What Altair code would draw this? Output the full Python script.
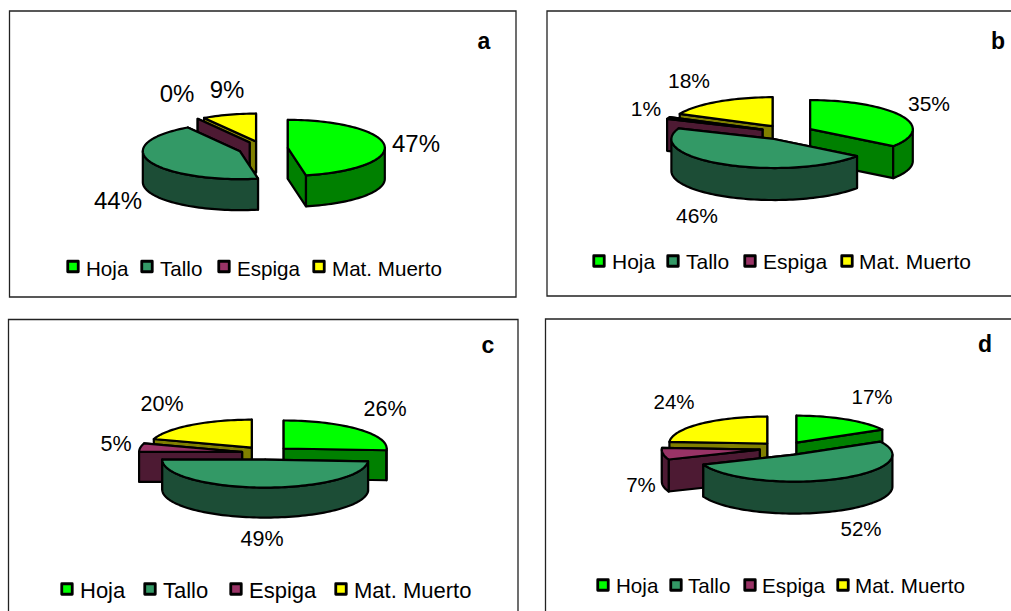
import math
import altair as alt

# Composition of each sample, in percent, clockwise from twelve o'clock
CATEGORIES = ["Hoja", "Tallo", "Espiga", "Mat. Muerto"]
VALUES_A = [47, 44, 0, 9]
VALUES_B = [35, 46, 1, 18]
VALUES_C = [26, 49, 5, 20]
VALUES_D = [17, 52, 7, 24]
TOP_COLORS = ["#00FF00", "#339966", "#993366", "#FFFF00"]
WALL_COLORS = ["#008000", "#1C4D36", "#4D1A33", "#808000"]

# Pie geometry and text placement for each panel
PANELS = [
    dict(name="a", values=VALUES_A, c=(263, 148.5), rx=97, ry=28, depth=31, explode=0.257,
         frame=(9.5, 11, 516, 297), letter=(484, 49),
         labels=[(416, 152), (118, 209), (177, 102), (227, 98)], label_size=24,
         legend_y=266.5, legend_base=275.5, legend_size=20.6,
         swatch_x=[73, 147, 224, 319], text_x=[86, 160, 237, 332]),
    dict(name="b", values=VALUES_B, c=(786.7, 132.5), rx=102.6, ry=29, depth=32, explode=0.257,
         frame=(547, 11, 1030, 296), letter=(998, 49),
         labels=[(929, 111), (697, 223), (646, 116), (689, 88)], label_size=21,
         legend_y=261, legend_base=269, legend_size=21,
         swatch_x=[599, 673, 750, 847], text_x=[612, 686, 763, 859]),
    dict(name="c", values=VALUES_C, c=(266, 453), rx=103, ry=28, depth=30, explode=0.235,
         frame=(8.5, 319.5, 518, 630), letter=(488, 353),
         labels=[(385, 416), (262, 546), (116, 451), (162, 411)], label_size=21.5,
         legend_y=589, legend_base=598, legend_size=22,
         swatch_x=[67, 150, 236, 341], text_x=[80, 163, 249, 354]),
    dict(name="d", values=VALUES_D, c=(784, 448.5), rx=98, ry=27, depth=32, explode=0.25,
         frame=(545.5, 319, 1030, 630), letter=(985, 352),
         labels=[(872, 404), (861, 536), (641, 492), (674, 409)], label_size=20.5,
         legend_y=585, legend_base=593, legend_size=20.6,
         swatch_x=[603, 676, 750, 843], text_x=[616, 688, 762, 855]),
]

# Back-to-front paint order of the slices
PAINT_ORDER = [3, 2, 0, 1]
FONT = "Liberation Sans"


def rim(center, rx, ry, start, end, drop=0.0):
    """Points along a slice's elliptical rim, angles in degrees clockwise from the top."""
    steps = max(2, int(abs(end - start) / 2) + 1)
    points = []
    for i in range(steps + 1):
        t = math.radians(start + (end - start) * i / steps)
        points.append([center[0] + rx * math.sin(t), center[1] - ry * math.cos(t) + drop])
    return points


def polygon(points, fill):
    return {
        "type": "Feature",
        "properties": {"fill": fill},
        "geometry": {"type": "Polygon", "coordinates": [points + [points[0]]]},
    }


def slice_features(panel):
    values = panel["values"]
    total = sum(values)
    rx, ry, depth = panel["rx"], panel["ry"], panel["depth"]
    spans, running = [], 0.0
    for v in values:
        spans.append((running, running + 360.0 * v / total))
        running += 360.0 * v / total

    features = []
    for i in PAINT_ORDER:
        start, end = spans[i]
        mid = math.radians((start + end) / 2)
        center = (
            panel["c"][0] + panel["explode"] * rx * math.sin(mid),
            panel["c"][1] - panel["explode"] * ry * math.cos(mid),
        )
        # Cut faces of the wedge, the one nearer the viewer painted last
        for angle in sorted((start, end), key=lambda a: math.cos(math.radians(a)), reverse=True):
            edge = rim(center, rx, ry, angle, angle)[0]
            features.append(polygon(
                [list(center), edge, [edge[0], edge[1] + depth], [center[0], center[1] + depth]],
                WALL_COLORS[i],
            ))
        # Outer wall, on the part of the rim that faces the viewer
        low, high = max(start, 90.0), min(end, 270.0)
        if high > low:
            upper = rim(center, rx, ry, low, high)
            lower = rim(center, rx, ry, low, high, depth)
            features.append(polygon(upper + lower[::-1], WALL_COLORS[i]))
        # Top surface
        if end > start:
            features.append(polygon([list(center)] + rim(center, rx, ry, start, end), TOP_COLORS[i]))
    return features


features, frames, letters, labels, swatches, legend_text = [], [], [], [], [], []
for p in PANELS:
    features += slice_features(p)
    x0, y0, x1, y1 = p["frame"]
    frames.append(dict(x=x0, y=y0, x2=x1, y2=y1))
    letters.append(dict(x=p["letter"][0], y=p["letter"][1], text=p["name"]))
    for value, (lx, ly) in zip(p["values"], p["labels"]):
        labels.append(dict(x=lx, y=ly, text=f"{value}%", size=p["label_size"]))
    for i, name in enumerate(CATEGORIES):
        swatches.append(dict(x=p["swatch_x"][i], y=p["legend_y"], fill=TOP_COLORS[i]))
        legend_text.append(dict(x=p["text_x"][i], y=p["legend_base"], text=name, size=p["legend_size"]))

px = dict(scale=None, axis=None)
X = alt.X("x:Q", **px)
Y = alt.Y("y:Q", **px)

frame_layer = alt.Chart(alt.Data(values=frames)).mark_rect(
    fill="white", stroke="#222222", strokeWidth=1.3
).encode(x=X, y=Y, x2="x2:Q", y2="y2:Q")

pie_layer = alt.Chart(alt.Data(values=features)).mark_geoshape(
    stroke="#000000", strokeWidth=2.2, strokeJoin="round"
).encode(fill=alt.Fill("properties.fill:N", scale=None)).project(
    type="identity", scale=1, translate=[0, 0]
)

label_layer = alt.Chart(alt.Data(values=labels)).mark_text(
    font=FONT, color="#000000", align="center", baseline="alphabetic"
).encode(x=X, y=Y, text="text:N", size=alt.Size("size:Q", scale=None))

letter_layer = alt.Chart(alt.Data(values=letters)).mark_text(
    font=FONT, fontWeight="bold", fontSize=23, color="#000000", align="center", baseline="alphabetic"
).encode(x=X, y=Y, text="text:N")

swatch_layer = alt.Chart(alt.Data(values=swatches)).mark_square(
    size=110, stroke="#000000", strokeWidth=2.8, opacity=1, filled=True, strokeJoin="round"
).encode(x=X, y=Y, fill=alt.Fill("fill:N", scale=None))

legend_layer = alt.Chart(alt.Data(values=legend_text)).mark_text(
    font=FONT, color="#000000", align="left", baseline="alphabetic"
).encode(x=X, y=Y, text="text:N", size=alt.Size("size:Q", scale=None))

chart = alt.layer(
    frame_layer, pie_layer, label_layer, letter_layer, swatch_layer, legend_layer
).properties(
    width=1011, height=611, padding=0, autosize=alt.AutoSizeParams(type="none"), background="white"
).configure_view(stroke=None)

chart.save("out.html", embed_options={"renderer": "svg", "actions": False})
